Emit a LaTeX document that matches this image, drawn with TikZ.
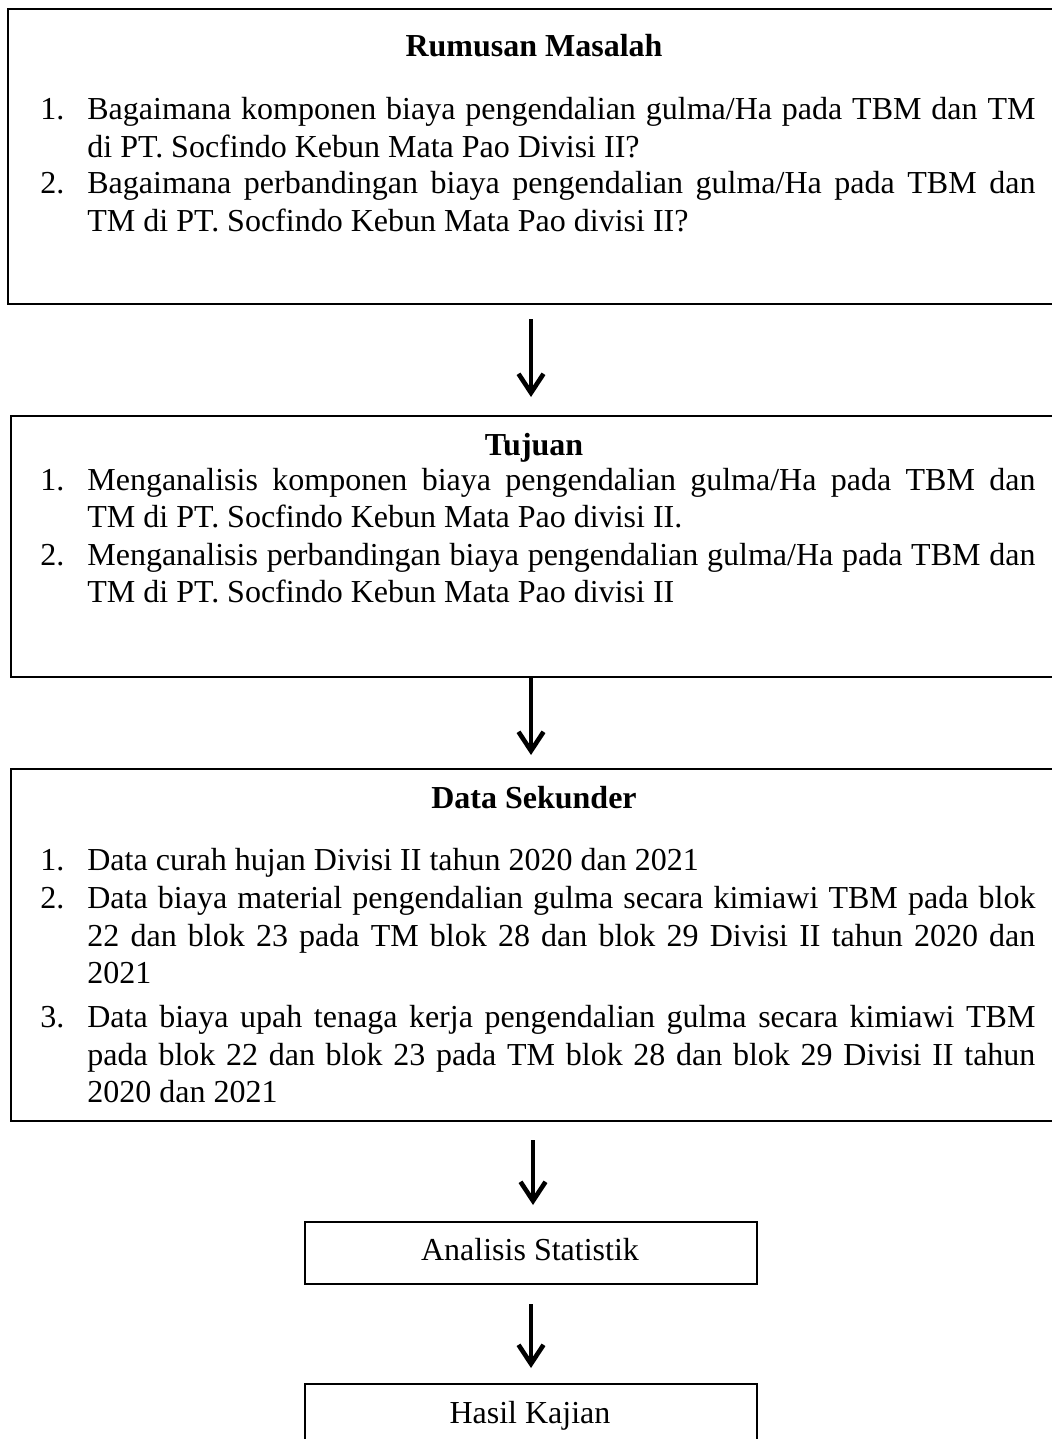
\documentclass[tikz,border=0pt]{standalone}
\usepackage{fontspec}
\setmainfont{Liberation Serif}
\usetikzlibrary{arrows.meta}
\newcommand\jline[2]{\makebox[23.5pt][l]{#1}\makebox[474pt][s]{#2}}
\newcommand\pline[2]{\makebox[23.5pt][l]{#1}#2}
\newcommand\txtsize{\fontsize{16pt}{18.75pt}\selectfont}
\begin{document}
\begin{tikzpicture}[x=0.5pt,y=-0.5pt,
  box/.style={draw=black, line width=1pt, inner sep=0pt, anchor=north west},
  title/.style={font=\txtsize\bfseries, anchor=base, inner sep=0pt},
  plain/.style={font=\txtsize, anchor=base, inner sep=0pt},
  itemtext/.style={anchor=base west, inner sep=0pt},
  arw/.style={line width=2.3pt, -{Straight Barb[length=9.5pt,width=12.5pt,line width=2.3pt]}}]
\clip (0,0) rectangle (1052,1439);
\useasboundingbox (0,0) rectangle (1052,1439);
\fill[white] (0,0) rectangle (1052,1439);
% boxes
\node[box, minimum width=526.5pt, minimum height=147.5pt] (b1) at (7,8) {};
\node[box, minimum width=525pt, minimum height=130.5pt] (b2) at (10,415) {};
\node[box, minimum width=525pt, minimum height=176pt] (b3) at (10,768) {};
\node[box, minimum width=226pt, minimum height=31pt] (b4) at (304,1221) {};
\node[box, minimum width=226pt, minimum height=40pt] (b5) at (304,1383) {};
% box 1
\node[title] (t1) at (534,57) {Rumusan Masalah};
\node[itemtext] (r1) at (40,120) {\parbox[t]{520pt}{\txtsize
  \jline{1.}{Bagaimana komponen biaya pengendalian gulma/Ha pada TBM dan TM}\\
  \pline{}{di PT. Socfindo Kebun Mata Pao Divisi II?}}};
\node[itemtext] (r2) at (40,194) {\parbox[t]{520pt}{\txtsize
  \jline{2.}{Bagaimana perbandingan biaya pengendalian gulma/Ha pada TBM dan}\\
  \pline{}{TM di PT. Socfindo Kebun Mata Pao divisi II?}}};
% box 2
\node[title] (t2) at (534,455) {Tujuan};
\node[itemtext] (j1) at (40,490) {\parbox[t]{520pt}{\txtsize
  \jline{1.}{Menganalisis komponen biaya pengendalian gulma/Ha pada TBM dan}\\
  \pline{}{TM di PT. Socfindo Kebun Mata Pao divisi II.}}};
\node[itemtext] (j2) at (40,565) {\parbox[t]{520pt}{\txtsize
  \jline{2.}{Menganalisis perbandingan biaya pengendalian gulma/Ha pada TBM dan}\\
  \pline{}{TM di PT. Socfindo Kebun Mata Pao divisi II}}};
% box 3
\node[title] (t3) at (534,808) {Data Sekunder};
\node[itemtext] (d1) at (40,870) {\parbox[t]{520pt}{\txtsize
  \pline{1.}{Data curah hujan Divisi II tahun 2020 dan 2021}}};
\node[itemtext] (d2) at (40,908.5) {\parbox[t]{520pt}{\txtsize
  \jline{2.}{Data biaya material pengendalian gulma secara kimiawi TBM pada blok}\\
  \jline{}{22 dan blok 23 pada TM blok 28 dan blok 29 Divisi II tahun 2020 dan}\\
  \pline{}{2021}}};
\node[itemtext] (d3) at (40,1027.5) {\parbox[t]{520pt}{\txtsize
  \jline{3.}{Data biaya upah tenaga kerja pengendalian gulma secara kimiawi TBM}\\
  \jline{}{pada blok 22 dan blok 23 pada TM blok 28 dan blok 29 Divisi II tahun}\\
  \pline{}{2020 dan 2021}}};
% small boxes
\node[plain] (t4) at (530,1260) {Analisis Statistik};
\node[plain] (t5) at (530,1423) {Hasil Kajian};
% arrows
\draw[arw, shorten <=7pt, shorten >=9pt] ([xshift=-1.75pt]b1.south) -- ([xshift=-1.75pt]b1.south |- b2.north);
\draw[arw, shorten >=6.5pt] ([xshift=-2.5pt]b2.south) -- ([xshift=-2.5pt]b2.south |- b3.north);
\draw[arw, shorten <=9pt, shorten >=8pt] ([xshift=-1.5pt]b3.south) -- ([xshift=-1.5pt]b3.south |- b4.north);
\draw[arw, shorten <=9.5pt, shorten >=7.5pt] (b4.south) -- (b5.north);
\end{tikzpicture}
\end{document}
